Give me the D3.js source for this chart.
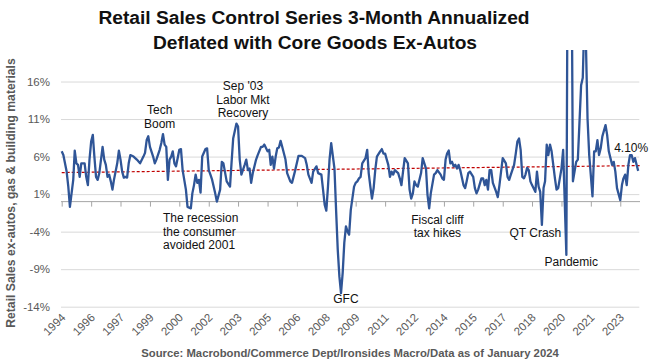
<!DOCTYPE html>
<html>
<head>
<meta charset="utf-8">
<script src="https://cdn.jsdelivr.net/npm/d3@7"></script>
<style>
  body { margin: 0; background: #fff; }
  svg text { font-family: "Liberation Sans", Arial, sans-serif; }
</style>
</head>
<body>
<div id="chart"></div>
<script>
// 3m annualized, % (one row per year)
const months = [
  "1994-07","1994-08","1994-10","1994-11","1994-12",
  "1995-02","1995-03","1995-04","1995-05","1995-06","1995-07","1995-09","1995-10","1995-11","1995-12",
  "1996-01","1996-02","1996-03","1996-04","1996-05","1996-06","1996-08","1996-09","1996-10","1996-11","1996-12",
  "1997-01","1997-02","1997-03","1997-05","1997-06","1997-07","1997-08","1997-09","1997-10","1997-11","1997-12",
  "1998-01","1998-03","1998-05","1998-07","1998-09","1998-10","1998-11","1998-12",
  "1999-01","1999-03","1999-04","1999-05","1999-07","1999-08","1999-09","1999-10","1999-11","1999-12",
  "2000-01","2000-02","2000-03","2000-04","2000-05","2000-06","2000-07","2000-08","2000-09","2000-11","2000-12",
  "2001-02","2001-03","2001-04","2001-05","2001-06","2001-07","2001-08","2001-09","2001-11","2001-12",
  "2002-01","2002-02","2002-03","2002-05","2002-06","2002-08","2002-09","2002-10","2002-12",
  "2003-02","2003-03","2003-04","2003-06","2003-07","2003-08","2003-09","2003-11","2003-12",
  "2004-01","2004-02","2004-03","2004-04","2004-06","2004-07","2004-09","2004-10","2004-11",
  "2005-01","2005-02","2005-03","2005-04","2005-05","2005-06","2005-07","2005-08","2005-09","2005-10","2005-12",
  "2006-01","2006-03","2006-04","2006-06","2006-08","2006-10","2006-12",
  "2007-01","2007-02","2007-04","2007-05","2007-07","2007-08","2007-10","2007-11","2007-12",
  "2008-01","2008-02","2008-03","2008-04","2008-06","2008-07","2008-08","2008-09","2008-10","2008-11","2008-12",
  "2009-01","2009-02","2009-03","2009-04","2009-06","2009-07","2009-08","2009-09","2009-10","2009-11",
  "2010-01","2010-02","2010-03","2010-04","2010-05","2010-06","2010-07","2010-08","2010-10","2010-11","2010-12",
  "2011-01","2011-02","2011-03","2011-04","2011-05","2011-06","2011-07","2011-09","2011-10","2011-11","2011-12",
  "2012-01","2012-03","2012-04","2012-05","2012-06","2012-07","2012-08","2012-09","2012-11","2012-12",
  "2013-02","2013-03","2013-04","2013-05","2013-07","2013-08","2013-09","2013-11","2013-12",
  "2014-01","2014-02","2014-03","2014-04","2014-05","2014-06","2014-07","2014-08","2014-09","2014-10","2014-11",
  "2015-01","2015-02","2015-03","2015-04","2015-05","2015-07","2015-08","2015-09","2015-10","2015-12",
  "2016-01","2016-02","2016-03","2016-04","2016-05","2016-06","2016-07","2016-09","2016-10","2016-11","2016-12",
  "2017-01","2017-03","2017-04","2017-05","2017-06","2017-08","2017-09","2017-10","2017-11","2017-12",
  "2018-01","2018-02","2018-03","2018-04","2018-05","2018-06","2018-07","2018-09","2018-10","2018-11","2018-12",
  "2019-01","2019-02","2019-03","2019-04","2019-05","2019-06","2019-07","2019-09","2019-10","2019-11","2019-12",
  "2020-01","2020-02","2020-04","2020-05","2020-06","2020-07","2020-08","2020-10","2020-11",
  "2021-01","2021-02","2021-03","2021-04","2021-05","2021-06","2021-08","2021-09","2021-10","2021-11","2021-12",
  "2022-01","2022-02","2022-04","2022-05","2022-06","2022-08","2022-09","2022-10","2022-11",
  "2023-01","2023-02","2023-03","2023-04","2023-05","2023-06","2023-07","2023-08","2023-09","2023-10","2023-11","2023-12"
]
const values = [
  6.7, 6.2, 4.0, 2.0, -0.7,
  2.9, 6.8, 5.1, 4.9, 3.3, 5.1, 5.1, 3.3, 2.2, 5.6,
  8.0, 8.9, 6.0, 3.3, 2.9, 3.8, 7.3, 5.6, 4.9, 3.3, 3.6,
  2.7, 1.6, 2.9, 5.1, 6.8, 5.6, 4.0, 3.2, 3.3, 3.2, 5.1,
  6.2, 6.0, 5.6, 5.1, 6.0, 6.5, 8.2, 8.7,
  7.3, 6.0, 5.1, 5.6, 6.9, 7.8, 9.0, 7.6, 7.3, 2.9,
  5.6, 6.0, 6.7, 5.1, 4.7, 5.8, 6.9, 7.0, 4.2, 1.6, -0.7,
  -0.9, 1.1, 2.2, 3.6, 2.5, 2.9, 1.2, 6.0, 7.0, 7.1,
  4.2, 3.6, 3.0, 1.1, 0.0, 1.6, 5.3, 5.1, 2.7,
  2.0, 5.1, 8.4, 10.4, 10.0, 5.6, 3.6, 4.9, 5.6,
  4.2, 4.4, 2.5, 3.8, 5.6, 6.2, 7.3, 7.3, 7.6,
  6.7, 6.9, 4.9, 6.0, 4.4, 6.0, 7.1, 7.2, 8.1, 7.3, 5.6,
  3.8, 2.7, 2.5, 4.2, 6.1, 6.1, 5.8,
  4.9, 3.6, 2.5, 4.0, 4.7, 3.8, 3.6, 1.6, -0.4,
  -1.2, 2.0, 5.6, 7.8, 4.4, -1.1, -6.4, -10.0, -12.2, -9.5, -5.5,
  -3.3, -4.0, -4.4, -1.1, 2.0, 2.5, 2.7, 3.1, 3.3, 5.1,
  5.8, 6.9, 3.8, 2.0, 0.4, 1.8, 4.2, 6.0, 6.7, 7.0, 6.4,
  6.4, 5.6, 4.9, 3.3, 4.0, 3.6, 4.2, 3.8, 3.1, 2.2, 4.0,
  5.8, 5.1, 1.6, 0.4, 1.1, 2.7, 2.2, 2.0, 3.8, 5.8,
  4.4, 0.9, -0.9, 1.1, 3.6, 3.8, 4.2, 3.6, 3.1,
  2.9, 5.6, 6.4, 6.8, 5.1, 5.3, 4.7, 4.9, 4.4, 4.9, 4.2,
  2.2, 1.8, 2.7, 3.8, 4.0, 3.3, 1.8, 1.1, 1.6, 3.1,
  3.1, 2.2, 2.9, 1.6, 4.2, 4.2, 2.5, 1.3, 0.6, 2.2, 4.0,
  5.8, 5.1, 3.3, 2.9, 3.6, 4.9, 6.4, 8.0, 8.4, 6.9,
  3.3, 3.1, 3.6, 4.5, 4.2, 2.7, 2.2, 1.3, 4.0, 2.0, 1.3,
  -3.1, 1.8, 2.7, 7.6, 6.2, 7.6, 6.7, 3.1, 1.6, 1.8, 3.1,
  4.4, 6.9, -7.1, 45, 60, 40, 2.7, 5.3, 5.6,
  15.5, 16.5, 24, 21, 11, 6.2, 0.7, 6.7, 6.7, 8.2, 6.2,
  7.1, 8.7, 10.2, 8.9, 6.7, 4.9, 5.3, 4.0, 1.8,
  0.2, 2.2, 3.1, 3.6, 2.2, 4.9, 6.2, 6.2, 5.3, 5.8, 4.9, 4.1
]
const trendEnds = [3.87, 4.80] // pointillÃ© rouge, debut et fin
const yTicks = [-14, -9, -4, 1, 6, 11, 16]
const Y_MAX = 20.2

const annotations = [
  { lines: ['Tech', 'Boom'], date: '1999-07', value: 12.2, anchor: 'middle' },
  { lines: ["Sep '03", 'Labor Mkt', 'Recovery'], date: '2003-10', value: 15.4, anchor: 'middle' },
  { lines: ['The recession', 'the consumer', 'avoided 2001'], date: '1999-09', value: -2.2, anchor: 'start' },
  { lines: ['GFC'], date: '2009-01', value: -13.0, anchor: 'middle' },
  { lines: ['Fiscal cliff', 'tax hikes'], date: '2013-09', value: -2.4, anchor: 'middle' },
  { lines: ['QT Crash'], date: '2018-09', value: -4.2, anchor: 'middle' },
  { lines: ['Pandemic'], date: '2020-07', value: -8.0, anchor: 'middle' }
]

const WIDTH = 651
const HEIGHT = 364
const PLOT_LEFT = 61.7
const PLOT_RIGHT = 638.2
const GRID_RIGHT = 640
const PLOT_TOP = 50
const PLOT_BOTTOM = 306.7
const GREY = '#595959'

const svg = d3.select('#chart').append('svg').attr('width', WIDTH).attr('height', HEIGHT)

const parse = d3.utcParse('%Y-%m')
const data = months.map((m, i) => ({ date: parse(m), value: values[i] }))
const first = data[0].date
const last = data[data.length - 1].date

const x = d3.scaleUtc().domain([first, last]).range([PLOT_LEFT, PLOT_RIGHT])
const y = d3.scaleLinear().domain([-14, Y_MAX]).range([PLOT_BOTTOM, PLOT_TOP])

// grille + labels Y
const yAxis = svg.append('g')
  .attr('transform', `translate(${PLOT_LEFT - 0.7},0)`)
  .call(d3.axisLeft(y).tickValues(yTicks).tickSize(-(GRID_RIGHT - PLOT_LEFT)).tickPadding(11).tickFormat(d => d + '%'))
yAxis.select('.domain').remove()
yAxis.selectAll('line').attr('stroke', '#d9d9d9')
yAxis.selectAll('text').attr('fill', GREY).attr('font-size', 11.5)

// ticks tous les 18 mois
const xTicks = d3.range(20).map(k => d3.utcMonth.offset(first, 18 * k))

const xAxis = svg.append('g')
  .attr('transform', `translate(0,${y(0)})`)
  .call(d3.axisBottom(x).tickValues(xTicks).tickSize(5).tickFormat(''))
xAxis.select('.domain').attr('d', `M${PLOT_LEFT - 0.7},0H${GRID_RIGHT}`).attr('stroke', '#a6a6a6')
xAxis.selectAll('line').attr('stroke', '#a6a6a6')

const xLabels = svg.append('g')
  .attr('transform', `translate(0,${PLOT_BOTTOM})`)
  .call(d3.axisBottom(x).tickValues(xTicks).tickSize(0).tickFormat(d3.utcFormat('%Y')))
xLabels.select('.domain').remove()
xLabels.selectAll('text')
  .attr('fill', GREY)
  .attr('font-size', 11.5)
  .attr('text-anchor', 'end')
  .attr('dy', 0)
  .attr('y', 0)
  .attr('transform', 'translate(4,11.5) rotate(-45)')

// trend
svg.append('line')
  .attr('x1', x(first)).attr('x2', GRID_RIGHT)
  .attr('y1', y(trendEnds[0])).attr('y2', y(trendEnds[1]))
  .attr('stroke', '#c00000')
  .attr('stroke-width', 1.2)
  .attr('stroke-dasharray', '3,2')

svg.append('clipPath').attr('id', 'plot-clip')
  .append('rect')
  .attr('x', 0).attr('y', PLOT_TOP)
  .attr('width', WIDTH).attr('height', HEIGHT - PLOT_TOP)

const line = d3.line().x(d => x(d.date)).y(d => y(d.value))

svg.append('path')
  .datum(data)
  .attr('clip-path', 'url(#plot-clip)')
  .attr('fill', 'none')
  .attr('stroke', '#2f5597')
  .attr('stroke-width', 2.3)
  .attr('stroke-linejoin', 'round')
  .attr('d', line)

// annotations
const notes = svg.append('g')
  .attr('font-size', 12)
  .attr('fill', '#111')

notes.selectAll('text')
  .data(annotations)
  .enter()
  .append('text')
  .attr('text-anchor', d => d.anchor)
  .attr('transform', d => `translate(${x(parse(d.date))},${y(d.value) + 4})`)
  .each(function (d) {
    d3.select(this).selectAll('tspan')
      .data(d.lines)
      .enter()
      .append('tspan')
      .attr('x', 0)
      .attr('dy', (t, i) => i === 0 ? 0 : 13.5)
      .text(t => t)
  })

// derniere valeur
const lastPoint = data[data.length - 1]
svg.append('text')
  .attr('x', x(lastPoint.date) - 7)
  .attr('y', y(lastPoint.value) - 19)
  .attr('text-anchor', 'middle')
  .attr('font-size', 12)
  .attr('fill', '#111')
  .text(d3.format('.2f')(lastPoint.value) + '%')

// titres
svg.append('text')
  .attr('x', 314).attr('y', 24)
  .attr('text-anchor', 'middle')
  .attr('font-size', 19.2)
  .attr('font-weight', 'bold')
  .attr('fill', '#111')
  .text('Retail Sales Control Series 3-Month Annualized')

svg.append('text')
  .attr('x', 315).attr('y', 49)
  .attr('text-anchor', 'middle')
  .attr('font-size', 19.2)
  .attr('font-weight', 'bold')
  .attr('fill', '#111')
  .text('Deflated with Core Goods Ex-Autos')

svg.append('text')
  .attr('transform', 'translate(15,193) rotate(-90)')
  .attr('text-anchor', 'middle')
  .attr('font-size', 12.2)
  .attr('font-weight', 'bold')
  .attr('fill', GREY)
  .text('Retail Sales ex-autos, gas & building materials')

svg.append('text')
  .attr('x', 350).attr('y', 357)
  .attr('text-anchor', 'middle')
  .attr('font-size', 11.3)
  .attr('font-weight', 'bold')
  .attr('fill', GREY)
  .text('Source: Macrobond/Commerce Dept/Ironsides Macro/Data as of January 2024')
</script>
</body>
</html>
